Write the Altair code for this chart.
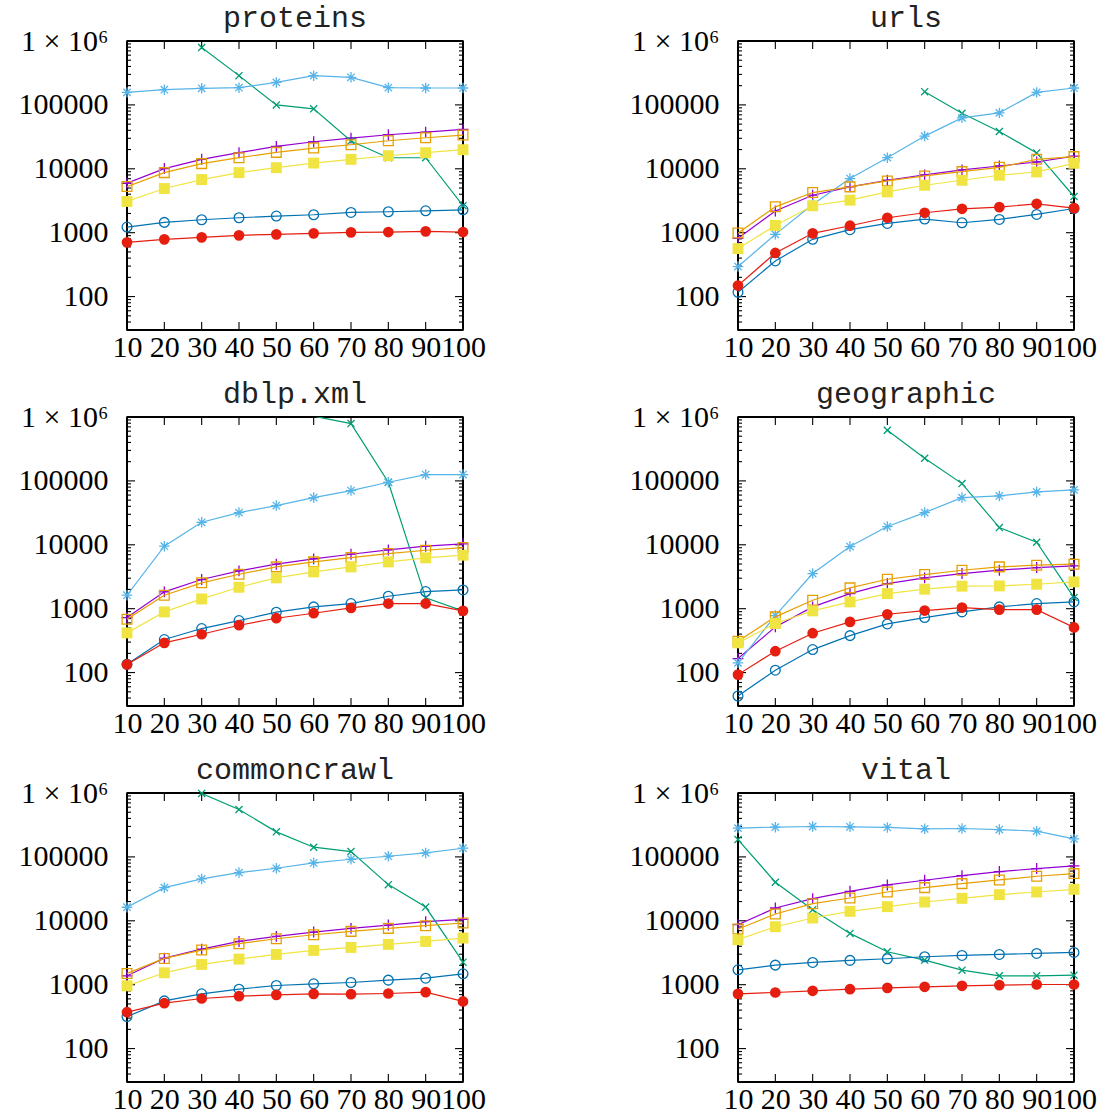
import altair as alt
import pandas as pd

# ---------------- data ----------------
X = [10, 20, 30, 40, 50, 60, 70, 80, 90, 100]
SERIES = ["s1", "s2", "s3", "s4", "s5", "s6", "s7"]
COLORS = ["#9400d3", "#009e73", "#56b4e9", "#e69f00", "#f0e442", "#0072b2", "#e51e10"]
TITLES = ["proteins", "urls", "dblp.xml", "geographic", "commoncrawl", "vital"]
Y_TICKS = [100, 1000, 10000, 100000, 1000000]
Y_MINOR = [30, 40, 50, 60, 70, 80, 90,
           200, 300, 400, 500, 600, 700, 800, 900,
           2000, 3000, 4000, 5000, 6000, 7000, 8000, 9000,
           20000, 30000, 40000, 50000, 60000, 70000, 80000, 90000,
           200000, 300000, 400000, 500000, 600000, 700000, 800000, 900000]
Y_DOMAIN = [30, 1000000]

proteins_s1 = [5940, 10070, 14070, 17860, 22420, 26500, 30200, 34100, 37500, 41300]
proteins_s2 = [None, None, 792000, 287000, 100000, 86700, 27200, 14900, 14900, 2640]
proteins_s3 = [157000, 173000, 182000, 186000, 225000, 287000, 270000, 186000, 184000, 184000]
proteins_s4 = [5270, 8710, 12040, 14940, 18070, 21100, 23800, 27500, 30600, 33700]
proteins_s5 = [3080, 4910, 6780, 8710, 10400, 12300, 14070, 16000, 17860, 19900]
proteins_s6 = [1225, 1450, 1595, 1714, 1820, 1910, 2076, 2125, 2200, 2282]
proteins_s7 = [706, 787, 846, 908, 942, 977, 1012, 1024, 1049, 1024]

urls_s1 = [817, 2180, 3860, 5210, 6620, 8020, 9590, 11070, 12770, 15830]
urls_s2 = [None, None, None, None, None, 161000, 74100, 38400, 17700, 3680]
urls_s3 = [295, 942, 2770, 7030, 14940, 32500, 62700, 75000, 157000, 184000]
urls_s4 = [988, 2540, 4250, 5210, 6460, 7730, 9030, 10550, 14070, 15500]
urls_s5 = [564, 1300, 2640, 3230, 4350, 5530, 6620, 7930, 8930, 12190]
urls_s6 = [117, 361, 787, 1114, 1397, 1633, 1431, 1614, 1932, 2393]
urls_s7 = [149, 482, 977, 1285, 1714, 2050, 2366, 2510, 2830, 2420]

dblp_s1 = [727, 1833, 2860, 3910, 4970, 6020, 7120, 8320, 9500, 10330]
dblp_s2 = [None, None, None, None, None, 1030000, 789000, 95300, 1476, 925]
dblp_s3 = [1625, 9510, 22500, 31900, 41100, 54800, 70600, 95300, 125600, 125600]
dblp_s4 = [684, 1625, 2540, 3460, 4510, 5400, 6310, 7290, 8220, 9050]
dblp_s5 = [418, 891, 1422, 2166, 3034, 3766, 4510, 5400, 6240, 6870]
dblp_s6 = [135, 329, 489, 652, 881, 1067, 1203, 1567, 1854, 1967]
dblp_s7 = [134, 292, 398, 551, 709, 849, 1028, 1203, 1203, 925]

geo_s1 = [166, 519, 1067, 1725, 2473, 3034, 3550, 4000, 4400, 4670]
geo_s2 = [None, None, None, None, 621000, 226000, 90800, 18600, 10970, 1493]
geo_s3 = [142, 781, 3550, 9380, 19300, 31900, 54800, 58200, 67300, 72300]
geo_s4 = [310, 745, 1356, 2117, 2890, 3420, 4000, 4510, 4790, 4970]
geo_s5 = [292, 586, 925, 1277, 1725, 2018, 2250, 2275, 2415, 2627]
geo_s6 = [43, 109, 229, 379, 578, 727, 891, 1067, 1203, 1277]
geo_s7 = [93, 216, 413, 621, 818, 935, 1042, 968, 968, 509]

cc_s1 = [1378, 2606, 3605, 4755, 5700, 6665, 7605, 8580, 9680, 10520]
cc_s2 = [None, None, 984000, 552000, 246700, 141800, 121300, 36800, 16400, 2250]
cc_s3 = [16300, 33000, 45200, 56800, 66400, 80500, 91900, 102400, 115500, 136700]
cc_s4 = [1500, 2576, 3480, 4380, 5240, 6050, 6830, 7605, 8380, 9230]
cc_s5 = [960, 1535, 2075, 2515, 2975, 3440, 3830, 4270, 4755, 5370]
cc_s6 = [317, 558, 719, 851, 972, 1032, 1082, 1178, 1265, 1479]
cc_s7 = [371, 513, 608, 661, 693, 719, 711, 728, 764, 546]

vital_s1 = [8690, 15850, 22220, 28950, 36390, 43060, 50950, 58900, 65600, 72250]
vital_s2 = [187000, 40100, 14930, 6350, 3275, 2425, 1690, 1378, 1378, 1410]
vital_s3 = [282000, 292000, 299000, 296000, 289000, 275000, 278000, 268000, 253000, 191000]
vital_s4 = [7430, 12770, 18540, 22750, 28250, 33050, 38190, 43560, 49760, 54780]
vital_s5 = [5055, 8080, 11050, 14060, 16640, 19690, 22480, 25650, 28250, 31120]
vital_s6 = [1710, 2025, 2230, 2400, 2545, 2735, 2870, 2975, 3085, 3200]
vital_s7 = [719, 755, 802, 851, 893, 926, 960, 984, 1007, 1007]

PANELS = [
    [proteins_s1, proteins_s2, proteins_s3, proteins_s4, proteins_s5, proteins_s6, proteins_s7],
    [urls_s1, urls_s2, urls_s3, urls_s4, urls_s5, urls_s6, urls_s7],
    [dblp_s1, dblp_s2, dblp_s3, dblp_s4, dblp_s5, dblp_s6, dblp_s7],
    [geo_s1, geo_s2, geo_s3, geo_s4, geo_s5, geo_s6, geo_s7],
    [cc_s1, cc_s2, cc_s3, cc_s4, cc_s5, cc_s6, cc_s7],
    [vital_s1, vital_s2, vital_s3, vital_s4, vital_s5, vital_s6, vital_s7],
]

# ---------------- styling ----------------
PW, PH = 336, 289
LABEL_FONT = "Liberation Serif"
LABEL_SIZE = 30
TITLE_FONT = "Liberation Mono"

PLUS = "M-1,0L1,0M0,-1L0,1"
XMARK = "M-1,-1L1,1M-1,1L1,-1"
STAR = "M-1,0L1,0M0,-1L0,1M-0.7,-0.7L0.7,0.7M-0.7,0.7L0.7,-0.7"
MARKERS = [
    (PLUS, False, 120),
    (XMARK, False, 50),
    (STAR, False, 110),
    ("square", False, 95),
    ("square", True, 120),
    ("circle", False, 95),
    ("circle", True, 115),
]


def xenc(field="x"):
    return alt.X(
        f"{field}:Q",
        scale=alt.Scale(domain=[10, 100], nice=False, zero=False),
        axis=alt.Axis(values=X, format="d", title=None, labelOverlap=False,
                      labelFlush=False, labelBound=False),
    )


def yenc(field="v"):
    return alt.Y(
        f"{field}:Q",
        scale=alt.Scale(type="log", domain=Y_DOMAIN, nice=False),
        axis=alt.Axis(
            values=Y_TICKS,
            labelExpr="datum.value >= 1000000 ? '1 × 10⁶' : format(datum.value, 'd')",
            title=None,
            labelFlush=False,
        ),
    )


def panel(title, lists):
    rows = []
    for s, vals in zip(SERIES, lists):
        for x, v in zip(X, vals):
            if v is not None:
                rows.append({"x": x, "v": v, "s": s})
    df = pd.DataFrame(rows)

    ymaj = pd.DataFrame({"v": Y_TICKS})
    ymin = pd.DataFrame({"v": Y_MINOR})
    xmaj = pd.DataFrame({"x": X})

    layers = []
    frame = dict(color="#000000", strokeWidth=1.8, opacity=1)
    tick = dict(color="#000000", strokeWidth=1.1, opacity=1)
    # frame
    layers.append(alt.Chart(xmaj).mark_rule(**frame).encode(x=alt.value(0), y=alt.value(0), y2=alt.value(PH)))
    layers.append(alt.Chart(xmaj).mark_rule(**frame).encode(x=alt.value(PW), y=alt.value(0), y2=alt.value(PH)))
    layers.append(alt.Chart(xmaj).mark_rule(**frame).encode(y=alt.value(0), x=alt.value(0), x2=alt.value(PW)))
    layers.append(alt.Chart(xmaj).mark_rule(**frame).encode(y=alt.value(PH), x=alt.value(0), x2=alt.value(PW)))
    # ticks (inward)
    layers.append(alt.Chart(ymaj).mark_rule(**tick).encode(y=yenc(), x=alt.value(0), x2=alt.value(8)))
    layers.append(alt.Chart(ymaj).mark_rule(**tick).encode(y=yenc(), x=alt.value(PW), x2=alt.value(PW - 8)))
    layers.append(alt.Chart(ymin).mark_rule(**tick).encode(y=yenc(), x=alt.value(0), x2=alt.value(4)))
    layers.append(alt.Chart(ymin).mark_rule(**tick).encode(y=yenc(), x=alt.value(PW), x2=alt.value(PW - 4)))
    layers.append(alt.Chart(xmaj).mark_rule(**tick).encode(x=xenc(), y=alt.value(0), y2=alt.value(8)))
    layers.append(alt.Chart(xmaj).mark_rule(**tick).encode(x=xenc(), y=alt.value(PH), y2=alt.value(PH - 8)))

    for i, s in enumerate(SERIES):
        sdf = df[df["s"] == s]
        layers.append(
            alt.Chart(sdf).mark_line(clip=True, strokeWidth=1.2, color=COLORS[i]).encode(x=xenc(), y=yenc())
        )
        shape, filled, size = MARKERS[i]
        pt = alt.Chart(sdf).transform_filter("datum.v <= 1000000")
        if filled:
            pt = pt.mark_point(shape=shape, filled=True, color=COLORS[i], size=size, opacity=1, strokeWidth=0)
        else:
            pt = pt.mark_point(shape=shape, filled=False, color=COLORS[i], size=size, opacity=1, strokeWidth=1.3)
        layers.append(pt.encode(x=xenc(), y=yenc()))

    return alt.layer(*layers).properties(
        width=PW,
        height=PH,
        title=alt.TitleParams(
            text=title, font=TITLE_FONT, fontSize=30, fontWeight="normal",
            color="#222222", anchor="middle", frame="group", offset=-7,
        ),
    )


charts = [panel(t, l) for t, l in zip(TITLES, PANELS)]
rows = [alt.hconcat(charts[i], charts[i + 1], spacing=141) for i in (0, 2, 4)]

chart = (
    alt.vconcat(*rows, spacing=15)
    .properties(padding={"left": 17, "top": 2, "right": 0, "bottom": 0}, background="white")
    .configure_view(stroke="black", strokeWidth=1.5)
    .configure_axis(
        labelFont=LABEL_FONT, labelFontSize=LABEL_SIZE, labelColor="black",
        ticks=False, domain=False, grid=False, labelPadding=2,
    )
    .configure_axisY(labelPadding=19)
)

chart.save("out.html", embed_options={"renderer": "svg", "actions": False})
